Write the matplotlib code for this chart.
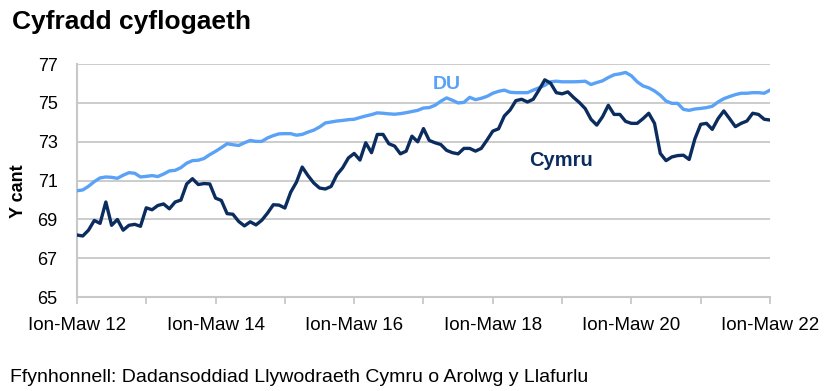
import matplotlib
matplotlib.use("Agg")
import matplotlib.pyplot as plt
import numpy as np

plt.rcParams['font.family'] = ['Liberation Sans', 'DejaVu Sans']

title = "Cyfradd cyflogaeth"
ylabel = "Y cant"
source = "Ffynhonnell: Dadansoddiad Llywodraeth Cymru o Arolwg y Llafurlu"
xtick_labels = ["Ion-Maw 12", "Ion-Maw 14", "Ion-Maw 16", "Ion-Maw 18", "Ion-Maw 20", "Ion-Maw 22"]
yticks = [65, 67, 69, 71, 73, 75, 77]

# Monthly rolling quarters, Ion-Maw 12 (index 0) to Ion-Maw 22 (index 120)
du = [
    70.48, 70.52, 70.71, 70.95, 71.14, 71.19, 71.17, 71.12, 71.28, 71.41, 71.38, 71.19,
    71.22, 71.26, 71.21, 71.34, 71.50, 71.53, 71.67, 71.90, 72.03, 72.05, 72.14, 72.34,
    72.51, 72.70, 72.90, 72.85, 72.81, 72.95, 73.07, 73.02, 73.02, 73.20, 73.32, 73.41,
    73.42, 73.42, 73.34, 73.38, 73.50, 73.60, 73.76, 73.97, 74.02, 74.07, 74.10, 74.14,
    74.16, 74.25, 74.33, 74.40, 74.49, 74.47, 74.44, 74.42, 74.45, 74.50, 74.56, 74.62,
    74.74, 74.76, 74.88, 75.09, 75.26, 75.14, 75.00, 75.03, 75.29, 75.17, 75.24, 75.34,
    75.50, 75.60, 75.66, 75.55, 75.53, 75.53, 75.53, 75.66, 75.78, 75.91, 76.09, 76.12,
    76.09, 76.09, 76.09, 76.10, 76.12, 75.95, 76.05, 76.14, 76.31, 76.45, 76.50, 76.57,
    76.40, 76.09, 75.88, 75.78, 75.62, 75.40, 75.10, 74.98, 74.98, 74.67, 74.62, 74.69,
    74.72, 74.76, 74.83, 75.05, 75.22, 75.33, 75.43, 75.50, 75.50, 75.53, 75.53, 75.50,
    75.66,
]
cymru = [
    68.20, 68.15, 68.45, 68.95, 68.80, 69.90, 68.70, 69.00, 68.45, 68.70, 68.75, 68.65,
    69.60, 69.50, 69.72, 69.80, 69.55, 69.90, 70.00, 70.83, 71.10, 70.80, 70.85, 70.83,
    70.10, 69.98, 69.30, 69.27, 68.90, 68.67, 68.88, 68.72, 68.96, 69.33, 69.76, 69.74,
    69.59, 70.40, 70.92, 71.70, 71.26, 70.88, 70.62, 70.57, 70.70, 71.30, 71.66, 72.17,
    72.40, 72.06, 72.95, 72.44, 73.38, 73.38, 72.90, 72.78, 72.38, 72.52, 73.29, 73.00,
    73.68, 73.07, 72.95, 72.86, 72.56, 72.44, 72.38, 72.66, 72.66, 72.52, 72.66, 73.09,
    73.55, 73.67, 74.33, 74.64, 75.12, 75.19, 75.05, 75.19, 75.67, 76.19, 76.02, 75.53,
    75.47, 75.57, 75.28, 75.02, 74.71, 74.16, 73.86, 74.29, 74.88, 74.41, 74.41, 74.05,
    73.95, 73.95, 74.19, 74.47, 73.95, 72.40, 72.03, 72.22, 72.29, 72.31, 72.09, 73.16,
    73.90, 73.95, 73.64, 74.19, 74.59, 74.19, 73.78, 73.95, 74.07, 74.47, 74.41, 74.16,
    74.12,
]

x = np.arange(len(du))

fig = plt.figure(figsize=(8.32, 3.91), dpi=100)
ax = fig.add_axes([0.0925, 0.240, 0.833, 0.596])

c_du = "#5AA2F7"
c_cy = "#0B2C5E"
grid_c = "#BFBFBF"

ax.set_ylim(65, 77)
ax.set_xlim(0, 120)
ax.set_yticks(yticks)
ax.set_yticklabels([str(v) for v in yticks], fontsize=13)
for v in yticks[1:]:
    ax.axhline(v, color=grid_c, lw=1.1, zorder=1)

ax.plot(x, du, color=c_du, lw=2.4, zorder=3, solid_joinstyle='round')
ax.plot(x, cymru, color=c_cy, lw=2.4, zorder=4, solid_joinstyle='round')

ax.set_xticks(np.arange(0, 121, 12), minor=True)
ax.set_xticks(np.arange(0, 121, 24))
ax.set_xticklabels(xtick_labels, fontsize=13.5)
ax.tick_params(axis='x', which='both', length=5, color=grid_c, width=1.1, direction='out', pad=9)
ax.tick_params(axis='y', length=0, pad=14)

for s in ['top', 'right']:
    ax.spines[s].set_visible(False)
for s in ['left', 'bottom']:
    ax.spines[s].set_color("#C8C8C8")
    ax.spines[s].set_linewidth(1.5)

ax.text(64, 75.95, "DU", color=c_du, fontsize=14, fontweight='bold', ha='center', va='center')
ax.text(83.8, 72.06, "Cymru", color=c_cy, fontsize=14.5, fontweight='bold', ha='center', va='center')

fig.text(0.015, 0.945, title, fontsize=19, fontweight='bold', ha='left', va='center')
fig.text(0.022, 0.51, ylabel, fontsize=13, fontweight='bold', rotation=90, ha='center', va='center')
fig.text(0.012, 0.035, source, fontsize=14, ha='left', va='center')

fig.savefig("out.png", dpi=100)
